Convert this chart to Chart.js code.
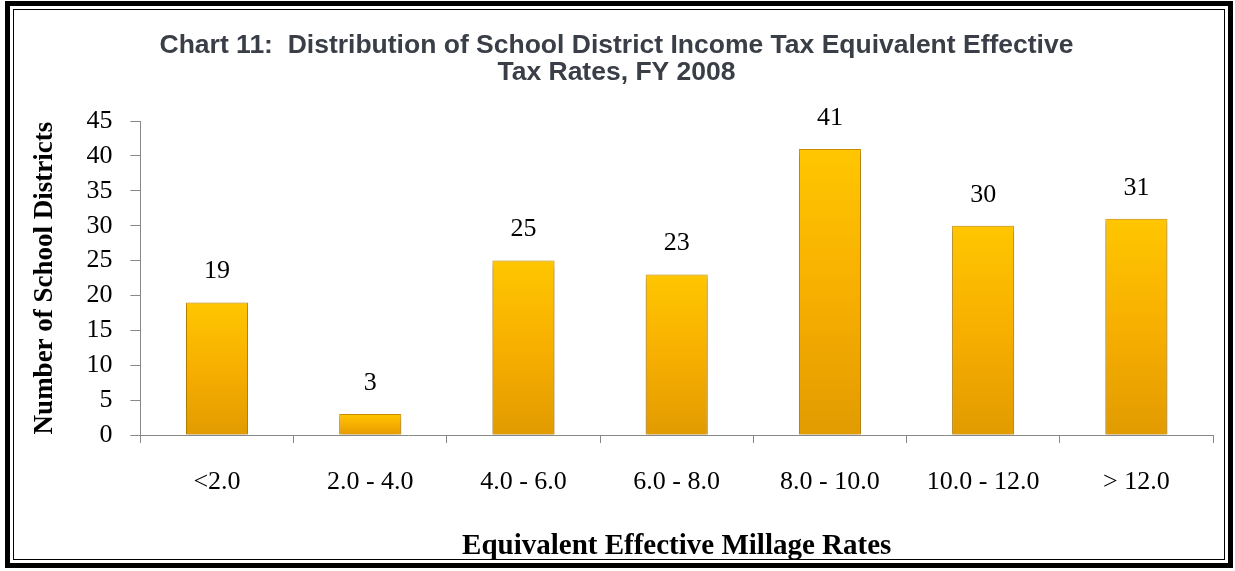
<!DOCTYPE html>
<html>
<head>
<meta charset="utf-8">
<script src="https://cdn.jsdelivr.net/npm/chart.js@4.4.1/dist/chart.umd.min.js"></script>
<style>
  html, body { margin: 0; padding: 0; background: #fff; }
  #frame {
    position: absolute; left: 5px; top: 1px; width: 1218px; height: 557px;
    border: 5px solid #000;
  }
  #inner {
    position: absolute; left: 3px; top: 3px; right: 3px; bottom: 3px;
    border: 1px solid #000;
  }
  #wrap { position: absolute; left: 0; top: 0; width: 1235px; height: 571px; }
</style>
</head>
<body>
<div id="frame"><div id="inner"></div></div>
<div id="wrap"><canvas id="myChart" width="1235" height="571"></canvas></div>
<script>
const gCategories = ['<2.0', '2.0 - 4.0', '4.0 - 6.0', '6.0 - 8.0', '8.0 - 10.0', '10.0 - 12.0', '> 12.0']
const gDistrictCounts = [19, 3, 25, 23, 41, 30, 31]
const gTitleLines = ['Chart 11:  Distribution of School District Income Tax Equivalent Effective', 'Tax Rates, FY 2008']

const gSerif = "'Liberation Serif', 'DejaVu Serif', serif"

// value labels above every bar
const barValueLabels = {
  id: 'barValueLabels',
  afterDatasetsDraw(chart) {
    const ctx = chart.ctx
    const meta = chart.getDatasetMeta(0)
    ctx.save()
    ctx.font = `26px ${gSerif}`
    ctx.fillStyle = '#000'
    ctx.textAlign = 'center'
    ctx.textBaseline = 'middle'
    meta.data.forEach((bar, i) => {
      ctx.fillText(gDistrictCounts[i], bar.x, bar.y - 31)
    })
    ctx.restore()
  }
}

// soft shadow under the bars
const barShadow = {
  id: 'barShadow',
  beforeDatasetsDraw(chart) {
    const ctx = chart.ctx
    ctx.save()
    ctx.shadowColor = 'rgba(0,0,0,0.35)'
    ctx.shadowBlur = 6
    ctx.shadowOffsetY = 3
  },
  afterDatasetsDraw(chart) {
    chart.ctx.restore()
  }
}

function barGradient(context) {
  const chart = context.chart
  const yScale = chart.scales.y
  if (!yScale || !chart.chartArea) return '#FFB800'
  const top = yScale.getPixelForValue(context.raw)
  const bottom = yScale.getPixelForValue(0)
  const g = chart.ctx.createLinearGradient(0, top, 0, bottom)
  g.addColorStop(0, '#FFC600')
  g.addColorStop(0.5, '#F7AF00')
  g.addColorStop(1, '#E29B00')
  return g
}

displayChart()

function displayChart() {
  const ctx = document.getElementById('myChart').getContext('2d')
  new Chart(ctx, {
    type: 'bar',
    data: {
      labels: gCategories,
      datasets: [{
        data: gDistrictCounts,
        backgroundColor: barGradient,
        borderColor: '#CF8F00',
        borderWidth: 1,
        barPercentage: 0.405,
        categoryPercentage: 1
      }]
    },
    plugins: [barShadow, barValueLabels],
    options: {
      responsive: false,
      animation: false,
      layout: { padding: { left: 20, right: 22, top: 32, bottom: 7 } },
      scales: {
        x: {
          grid: { offset: true, drawOnChartArea: false, tickLength: 8, color: '#888' },
          border: { color: '#888' },
          ticks: { color: '#000', padding: 24, maxRotation: 0, font: { family: gSerif, size: 26 } },
          title: {
            display: true,
            text: 'Equivalent Effective Millage Rates',
            color: '#000',
            padding: { top: 7, bottom: 0 },
            font: { family: gSerif, size: 29, weight: 'bold' }
          }
        },
        y: {
          min: 0,
          max: 45,
          ticks: { stepSize: 5, autoSkip: false, color: '#000', padding: 18, font: { family: gSerif, size: 26 } },
          grid: { drawOnChartArea: false, tickLength: 10, color: '#888' },
          border: { color: '#888' },
          title: {
            display: true,
            text: 'Number of School Districts',
            color: '#000',
            padding: { top: 9, bottom: 7 },
            font: { family: gSerif, size: 27, weight: 'bold' }
          }
        }
      },
      plugins: {
        legend: { display: false },
        tooltip: { enabled: false },
        title: {
          display: true,
          text: gTitleLines,
          color: '#3A3E47',
          padding: { top: 0, bottom: 35 },
          font: { family: "'Liberation Sans', Arial, sans-serif", size: 26.5, weight: 'bold', lineHeight: 1.02 }
        }
      }
    }
  })
}
</script>
</body>
</html>
